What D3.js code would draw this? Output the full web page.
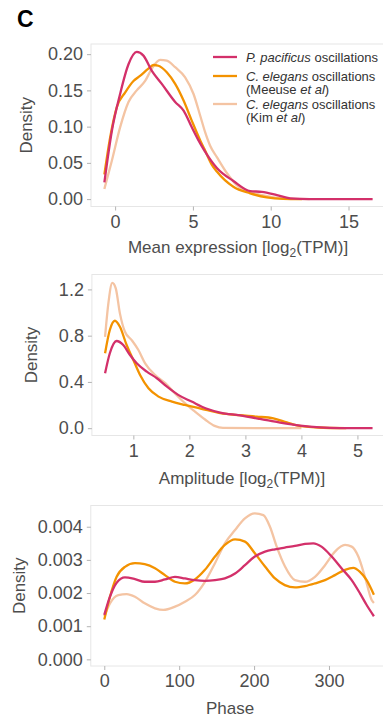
<!DOCTYPE html>
<html>
<head>
<meta charset="utf-8">
<script src="https://cdn.jsdelivr.net/npm/d3@7"></script>
<style>
  body { margin: 0; background: #fff; }
  svg { font-family: "Liberation Sans", Arial, sans-serif; }
</style>
</head>
<body>
<svg id="chart" width="383" height="722"></svg>
<script>
// series names + colours
let seriesNames = ["kim", "meeuse", "pacificus"]
let seriesColors = { pacificus: "#d3306a", meeuse: "#f39200", kim: "#f4c4a3" }

// panel 1: mean expression [log2(TPM)] vs density
let meanPacificus = [[-0.69,0.023],[-0.21,0.094],[0.32,0.145],[0.86,0.186],[1.39,0.203],[1.82,0.198],[2.36,0.177],[3.0,0.159],[3.86,0.134],[4.4,0.122],[4.93,0.099],[5.36,0.081],[5.74,0.067],[6.54,0.043],[7.6,0.025],[8.68,0.011],[9.43,0.010],[10.4,0.0055],[11.25,0.001],[12.5,0],[16.55,0]]
let meanMeeuse = [[-0.69,0.034],[-0.32,0.085],[0.11,0.127],[0.64,0.147],[1.18,0.163],[1.6,0.170],[2.14,0.180],[2.46,0.185],[2.78,0.184],[3.32,0.175],[3.86,0.159],[4.4,0.136],[4.93,0.108],[5.47,0.081],[5.74,0.069],[6.2,0.048],[6.54,0.038],[7.6,0.017],[8.68,0.008],[9.75,0.0023],[10.8,0.0003],[12.0,0]]
let meanKim = [[-0.69,0.014],[-0.21,0.053],[0.32,0.099],[0.86,0.134],[1.39,0.150],[1.93,0.163],[2.36,0.180],[2.89,0.192],[3.32,0.191],[3.86,0.182],[4.5,0.168],[5.04,0.145],[5.47,0.115],[5.79,0.092],[6.1,0.074],[6.54,0.058],[7.18,0.036],[7.83,0.019],[8.68,0.010],[9.75,0.004],[10.8,0.001],[12.5,0]]

// panel 2: amplitude
let ampPacificus = [[0.495,0.475],[0.58,0.648],[0.70,0.754],[0.82,0.719],[0.94,0.633],[1.06,0.561],[1.24,0.489],[1.42,0.432],[1.6,0.359],[1.8,0.288],[2.04,0.23],[2.3,0.17],[2.55,0.135],[2.9,0.11],[3.26,0.08],[3.62,0.048],[3.98,0.022],[4.33,0.007],[4.69,0.001],[5.27,0]]
let ampMeeuse = [[0.495,0.648],[0.58,0.849],[0.67,0.929],[0.76,0.877],[0.88,0.719],[1.0,0.59],[1.12,0.46],[1.27,0.345],[1.45,0.273],[1.69,0.23],[1.92,0.201],[2.2,0.17],[2.55,0.13],[2.9,0.112],[3.2,0.1],[3.5,0.085],[3.74,0.05],[3.92,0.025],[4.3,0.006],[4.8,0]]
let ampKim = [[0.495,0.79],[0.554,1.08],[0.625,1.257],[0.686,1.209],[0.76,0.993],[0.85,0.834],[0.97,0.762],[1.09,0.676],[1.21,0.561],[1.39,0.46],[1.57,0.389],[1.74,0.302],[1.92,0.216],[2.1,0.143],[2.28,0.075],[2.45,0.02],[2.6,0.002],[4.0,0]]

// panel 3: phase
let phasePacificus = [[0,0.00134],[7.6,0.00189],[16.5,0.00231],[27.6,0.00247],[41,0.00242],[54,0.00234],[67.7,0.00234],[81,0.00241],[94.4,0.00249],[107.7,0.00244],[121,0.00239],[134.4,0.00237],[147.8,0.00239],[161,0.00244],[174.6,0.00259],[187.8,0.00284],[201,0.0031],[214.6,0.00325],[227.9,0.00332],[241,0.00337],[254.6,0.00342],[268,0.00348],[279,0.0035],[290,0.0034],[303.6,0.0031],[317,0.00274],[330.3,0.00239],[341.4,0.00199],[350.3,0.00164],[360,0.0013]]
let phaseMeeuse = [[0,0.0012],[7.6,0.00189],[16.5,0.00249],[27.6,0.00279],[41,0.0029],[54,0.00287],[67.7,0.00275],[81,0.00254],[94.4,0.00234],[107.7,0.00229],[121,0.00241],[134.4,0.0027],[147.8,0.0031],[161,0.00345],[174.6,0.00362],[187.8,0.00355],[201,0.0032],[214.6,0.0028],[227.9,0.00244],[241,0.00224],[254.6,0.00217],[268,0.00221],[281.3,0.00229],[294.7,0.00239],[308,0.00254],[321.4,0.0027],[332.5,0.00276],[341.4,0.00264],[350.3,0.00239],[360,0.00195]]
let phaseKim = [[0,0.0013],[7.6,0.00169],[18.7,0.00194],[29.9,0.00197],[41,0.00189],[54,0.00169],[67.7,0.00154],[78.8,0.00149],[94.4,0.00159],[107.7,0.00174],[121,0.00194],[134.4,0.00234],[147.8,0.0029],[161,0.0035],[174.6,0.0039],[187.8,0.00425],[201,0.0044],[212.3,0.00435],[221.2,0.004],[230.2,0.0034],[241.3,0.0028],[254.6,0.00239],[268,0.00234],[281.3,0.00249],[294.7,0.00284],[308,0.00325],[321.4,0.00345],[330.3,0.0034],[339.2,0.0031],[348,0.00249],[357,0.00179],[360,0.0017]]

// tick values
let meanXTicks = [0, 5, 10, 15]
let meanYTicks = [0, 0.05, 0.10, 0.15, 0.20]
let ampXTicks = [1, 2, 3, 4, 5]
let ampYTicks = [0, 0.4, 0.8, 1.2]
let phaseXTicks = [0, 100, 200, 300]
let phaseYTicks = [0, 0.001, 0.002, 0.003, 0.004]

let legendLabels = [
  { key: "pacificus", italic: "P. pacificus", rest: " oscillations", line2: null },
  { key: "meeuse", italic: "C. elegans", rest: " oscillations", line2: "Meeuse" },
  { key: "kim", italic: "C. elegans", rest: " oscillations", line2: "Kim" }
]

let svg = d3.select("#chart")
let textColor = "#4d4d4d"

function drawPanel(opts) {
  let x = d3.scaleLinear().domain(opts.xDomain).range([opts.left, opts.right])
  let y = d3.scaleLinear().domain(opts.yDomain).range([opts.bottom, opts.top])

  let g = svg.append("g")

  g.append("rect")
    .attr("x", opts.left)
    .attr("y", opts.top)
    .attr("width", opts.right - opts.left)
    .attr("height", opts.bottom - opts.top)
    .style("fill", "#fff")
    .style("stroke", "#e6e6e6")
    .style("stroke-width", 1)

  let xAxis = g.append("g")
    .attr("transform", `translate(0,${opts.bottom})`)
    .call(d3.axisBottom(x).tickValues(opts.xTicks).tickSize(4).tickPadding(4.5).tickFormat(d3.format("d")))
  let yAxis = g.append("g")
    .attr("transform", `translate(${opts.left},0)`)
    .call(d3.axisLeft(y).tickValues(opts.yTicks).tickSize(4).tickPadding(4).tickFormat(d3.format(opts.yFormat)))

  ;[xAxis, yAxis].forEach(a => {
    a.select(".domain").remove()
    a.selectAll("line").style("stroke", "#b3b3b3")
    a.selectAll("text")
      .style("fill", textColor)
      .style("font-size", "18px")
      .style("font-family", "'Liberation Sans', Arial, sans-serif")
  })

  let line = d3.line()
    .x(d => x(d[0]))
    .y(d => y(d[1]))
    .curve(d3.curveMonotoneX)

  let clipId = "clip" + opts.id
  svg.append("clipPath").attr("id", clipId)
    .append("rect")
    .attr("x", opts.left).attr("y", opts.top - 3)
    .attr("width", opts.right - opts.left).attr("height", opts.bottom - opts.top + 6)

  g.append("g")
    .attr("clip-path", `url(#${clipId})`)
    .selectAll("path")
    .data(seriesNames)
    .join("path")
    .attr("d", k => line(opts.series[k]))
    .style("fill", "none")
    .style("stroke", k => seriesColors[k])
    .style("stroke-width", 2.3)
    .style("stroke-linejoin", "round")

  // y title
  g.append("text")
    .attr("transform", `translate(${opts.yTitleX},${(opts.top + opts.bottom) / 2}) rotate(-90)`)
    .attr("text-anchor", "middle")
    .attr("dy", "0.35em")
    .style("fill", textColor)
    .style("font-size", "17px")
    .text("Density")

  // x title
  let xt = g.append("text")
    .attr("x", opts.xTitleX)
    .attr("y", opts.xTitleY)
    .attr("text-anchor", "middle")
    .style("fill", textColor)
    .style("font-size", "17px")
  if (opts.xTitleSub) {
    xt.append("tspan").text(opts.xTitle)
    xt.append("tspan").attr("dy", 4).style("font-size", "12px").text("2")
    xt.append("tspan").attr("dy", -4).text(opts.xTitleEnd)
  } else {
    xt.text(opts.xTitle)
  }

  return { x, y, g }
}

drawPanel({
  id: 1, left: 91, right: 386, top: 44, bottom: 206.5,
  xDomain: [-1.55, 17.41], yDomain: [-0.0102, 0.214],
  xTicks: meanXTicks, yTicks: meanYTicks, yFormat: ".2f",
  series: { pacificus: meanPacificus, meeuse: meanMeeuse, kim: meanKim },
  yTitleX: 26, xTitleX: 238, xTitleY: 253,
  xTitle: "Mean expression [log", xTitleSub: true, xTitleEnd: "(TPM)]"
})

drawPanel({
  id: 2, left: 91.9, right: 386, top: 274.5, bottom: 435.5,
  xDomain: [0.26, 5.51], yDomain: [-0.0633, 1.329],
  xTicks: ampXTicks, yTicks: ampYTicks, yFormat: ".1f",
  series: { pacificus: ampPacificus, meeuse: ampMeeuse, kim: ampKim },
  yTitleX: 31, xTitleX: 242, xTitleY: 484,
  xTitle: "Amplitude [log", xTitleSub: true, xTitleEnd: "(TPM)]"
})

drawPanel({
  id: 3, left: 90.8, right: 387.4, top: 505.5, bottom: 666,
  xDomain: [-18, 378], yDomain: [-0.0002, 0.00464],
  xTicks: phaseXTicks, yTicks: phaseYTicks, yFormat: ".3f",
  series: { pacificus: phasePacificus, meeuse: phaseMeeuse, kim: phaseKim },
  yTitleX: 19, xTitleX: 230, xTitleY: 714,
  xTitle: "Phase", xTitleSub: false
})

// panel letter
svg.append("text")
  .attr("x", 17)
  .attr("y", 27)
  .style("font-size", "23px")
  .style("font-weight", "bold")
  .style("fill", "#000")
  .text("C")

// legend
let legend = svg.append("g").attr("transform", "translate(213,0)")
let legendRows = [57, 76, 104]
legendLabels.forEach((d, i) => {
  let cy = legendRows[i]
  legend.append("line")
    .attr("x1", 0).attr("x2", 24)
    .attr("y1", cy).attr("y2", cy)
    .style("stroke", seriesColors[d.key])
    .style("stroke-width", 2.3)
  let t = legend.append("text")
    .attr("x", 33).attr("y", cy + 4.5)
    .style("font-size", "13px")
    .style("fill", "#333")
  t.append("tspan").style("font-style", "italic").text(d.italic)
  t.append("tspan").text(d.rest)
  if (d.line2) {
    let t2 = legend.append("text")
      .attr("x", 33).attr("y", cy + 18)
      .style("font-size", "13px")
      .style("fill", "#333")
    t2.append("tspan").text("(" + d.line2 + " ")
    t2.append("tspan").style("font-style", "italic").text("et al")
    t2.append("tspan").text(")")
  }
})
</script>
</body>
</html>
